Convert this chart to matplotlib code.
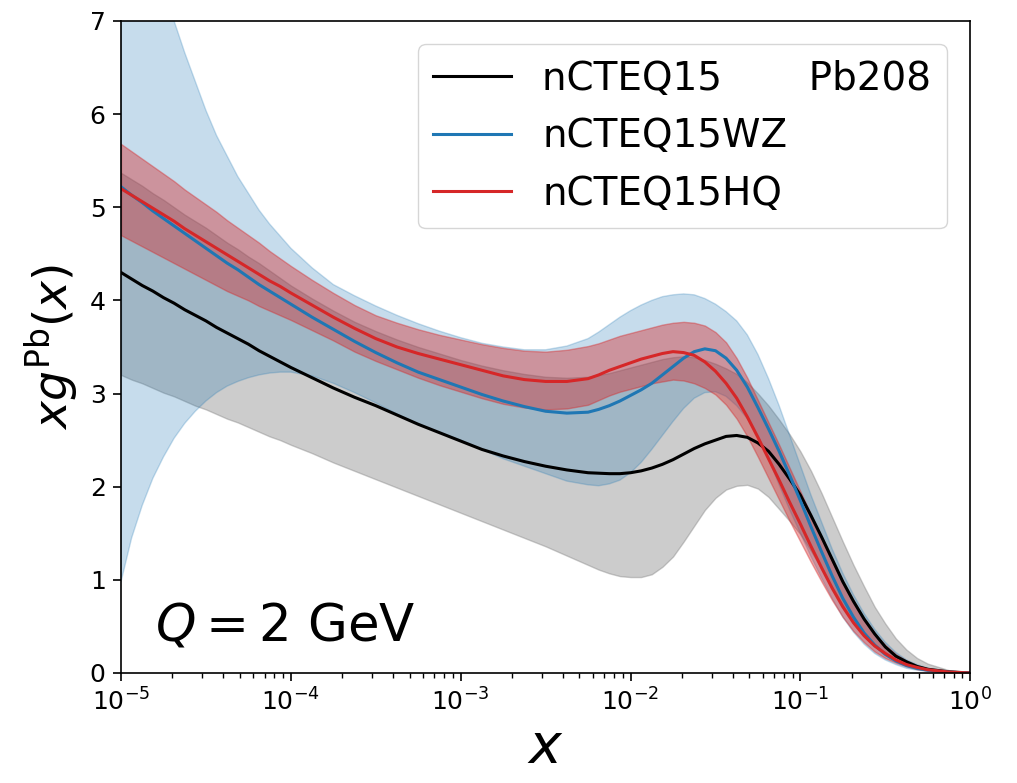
import numpy as np
import matplotlib.pyplot as plt

# log10(x) sample points (denser where curves bend)
log_x = [-5.0, -4.9375, -4.875, -4.8125, -4.75, -4.6875, -4.625, -4.5625, -4.5,
         -4.4375, -4.375, -4.3125, -4.25, -4.1875, -4.125, -4.0625, -4.0,
         -3.875, -3.75, -3.625, -3.5, -3.375, -3.25, -3.125, -3.0, -2.875,
         -2.75, -2.625, -2.5, -2.375,
         -2.25, -2.1875, -2.125, -2.0625, -2.0, -1.9375, -1.875, -1.8125, -1.75,
         -1.6875, -1.625, -1.5625, -1.5, -1.4375, -1.375, -1.3125, -1.25,
         -1.1875, -1.125, -1.0625, -1.0, -0.9375, -0.875, -0.8125, -0.75,
         -0.6875, -0.625, -0.5625, -0.5, -0.4375, -0.375, -0.3125, -0.25,
         -0.125, 0.0]

# nCTEQ15 central + band
cteq15 = [4.30, 4.23, 4.16, 4.10, 4.03, 3.97, 3.90, 3.84, 3.78,
          3.71, 3.65, 3.59, 3.53, 3.46, 3.40, 3.34, 3.28,
          3.17, 3.06, 2.96, 2.87, 2.77, 2.67, 2.58, 2.49, 2.40,
          2.33, 2.27, 2.22, 2.18,
          2.15, 2.145, 2.14, 2.14, 2.15, 2.17, 2.20, 2.24, 2.29,
          2.35, 2.41, 2.46, 2.50, 2.54, 2.55, 2.53, 2.47,
          2.38, 2.24, 2.08, 1.91, 1.69, 1.46, 1.22, 0.98,
          0.77, 0.58, 0.42, 0.28, 0.18, 0.12, 0.07, 0.04,
          0.012, 0.0]
cteq15_up = [5.37, 5.30, 5.23, 5.15, 5.08, 5.00, 4.92, 4.85, 4.78,
             4.70, 4.62, 4.55, 4.47, 4.40, 4.32, 4.24, 4.16,
             4.02, 3.89, 3.77, 3.67, 3.58, 3.50, 3.43, 3.36, 3.30,
             3.25, 3.21, 3.18, 3.17,
             3.18, 3.20, 3.22, 3.25, 3.28, 3.31, 3.34, 3.37, 3.39,
             3.40, 3.39, 3.36, 3.32, 3.27, 3.21, 3.12, 3.00,
             2.87, 2.72, 2.56, 2.38, 2.17, 1.93, 1.67, 1.41,
             1.16, 0.93, 0.71, 0.53, 0.37, 0.25, 0.16, 0.10,
             0.03, 0.0]
cteq15_lo = [3.20, 3.15, 3.11, 3.06, 3.01, 2.97, 2.92, 2.87, 2.83,
             2.78, 2.73, 2.69, 2.64, 2.59, 2.54, 2.50, 2.45,
             2.36, 2.26, 2.17, 2.08, 1.99, 1.90, 1.81, 1.72, 1.63,
             1.54, 1.45, 1.36, 1.26,
             1.16, 1.11, 1.07, 1.04, 1.03, 1.03, 1.06, 1.14, 1.25,
             1.41, 1.58, 1.75, 1.88, 1.97, 2.01, 2.02, 1.98,
             1.89, 1.76, 1.63, 1.49, 1.31, 1.12, 0.92, 0.73,
             0.56, 0.41, 0.29, 0.20, 0.13, 0.09, 0.05, 0.03,
             0.01, 0.0]

# nCTEQ15WZ
wz = [5.22, 5.13, 5.05, 4.96, 4.88, 4.80, 4.72, 4.64, 4.56,
      4.48, 4.40, 4.33, 4.25, 4.17, 4.10, 4.03, 3.96,
      3.82, 3.69, 3.56, 3.44, 3.33, 3.23, 3.15, 3.07, 2.99,
      2.92, 2.86, 2.81, 2.79,
      2.80, 2.83, 2.87, 2.92, 2.98, 3.04, 3.11, 3.20, 3.29,
      3.38, 3.45, 3.48, 3.46, 3.38, 3.25, 3.07, 2.85,
      2.62, 2.38, 2.12, 1.85, 1.57, 1.30, 1.04, 0.80,
      0.60, 0.43, 0.30, 0.20, 0.13, 0.08, 0.05, 0.03,
      0.008, 0.0]
wz_up = [9.9, 9.17, 8.57, 7.96, 7.48, 7.0, 6.66, 6.35, 6.04,
         5.77, 5.55, 5.33, 5.15, 4.97, 4.82, 4.69, 4.56,
         4.35, 4.17, 4.05, 3.94, 3.84, 3.75, 3.67, 3.60, 3.54,
         3.50, 3.47, 3.47, 3.51,
         3.59, 3.66, 3.74, 3.82, 3.89, 3.95, 4.00, 4.04, 4.06,
         4.07, 4.06, 4.02, 3.96, 3.88, 3.78, 3.63, 3.42,
         3.16, 2.87, 2.55, 2.23, 1.91, 1.62, 1.33, 1.07,
         0.84, 0.64, 0.47, 0.33, 0.22, 0.14, 0.09, 0.05,
         0.015, 0.0]
wz_lo = [0.98, 1.45, 1.80, 2.09, 2.32, 2.52, 2.68, 2.81, 2.92,
         3.01, 3.08, 3.13, 3.17, 3.20, 3.22, 3.23, 3.23,
         3.19, 3.11, 3.01, 2.90, 2.78, 2.67, 2.58, 2.50, 2.40,
         2.30, 2.22, 2.14, 2.06,
         2.02, 2.01, 2.03, 2.07, 2.15, 2.26, 2.40, 2.55, 2.70,
         2.84, 2.95, 3.01, 3.02, 2.97, 2.87, 2.73, 2.55,
         2.30, 2.02, 1.75, 1.50, 1.25, 1.02, 0.80, 0.60,
         0.44, 0.31, 0.21, 0.14, 0.09, 0.05, 0.03, 0.015,
         0.003, 0.0]

# nCTEQ15HQ
hq = [5.20, 5.13, 5.06, 4.99, 4.92, 4.85, 4.77, 4.70, 4.63,
      4.56, 4.49, 4.42, 4.35, 4.28, 4.21, 4.15, 4.08,
      3.95, 3.82, 3.70, 3.59, 3.50, 3.43, 3.37, 3.31, 3.25,
      3.19, 3.15, 3.13, 3.13,
      3.16, 3.20, 3.25, 3.29, 3.33, 3.37, 3.40, 3.43, 3.45,
      3.44, 3.41, 3.34, 3.24, 3.11, 2.95, 2.75, 2.53,
      2.30, 2.07, 1.83, 1.60, 1.36, 1.13, 0.91, 0.71,
      0.54, 0.40, 0.29, 0.21, 0.14, 0.09, 0.06, 0.035,
      0.01, 0.0]
hq_up = [5.68, 5.60, 5.52, 5.44, 5.36, 5.28, 5.19, 5.11, 5.03,
         4.95, 4.86, 4.78, 4.70, 4.62, 4.53, 4.45, 4.37,
         4.22, 4.08, 3.95, 3.84, 3.76, 3.69, 3.63, 3.58, 3.53,
         3.49, 3.46, 3.45, 3.47,
         3.51, 3.54, 3.58, 3.62, 3.65, 3.68, 3.71, 3.74, 3.76,
         3.77, 3.76, 3.73, 3.66, 3.55, 3.38, 3.17, 2.93,
         2.69, 2.45, 2.20, 1.95, 1.70, 1.45, 1.20, 0.97,
         0.76, 0.58, 0.42, 0.30, 0.20, 0.13, 0.08, 0.05,
         0.015, 0.0]
hq_lo = [4.70, 4.64, 4.58, 4.52, 4.46, 4.40, 4.34, 4.28, 4.22,
         4.16, 4.10, 4.05, 4.00, 3.94, 3.89, 3.84, 3.79,
         3.68, 3.57, 3.45, 3.35, 3.26, 3.17, 3.09, 3.02, 2.95,
         2.89, 2.85, 2.83, 2.84,
         2.88, 2.93, 2.98, 3.02, 3.05, 3.08, 3.11, 3.13, 3.15,
         3.14, 3.11, 3.06, 2.99, 2.88, 2.73, 2.54, 2.32,
         2.09, 1.86, 1.63, 1.41, 1.19, 0.98, 0.78, 0.60,
         0.45, 0.33, 0.23, 0.16, 0.11, 0.07, 0.04, 0.025,
         0.007, 0.0]

x = 10.0 ** np.array(log_x)

fig = plt.figure(figsize=(10.17, 7.83), dpi=100)
ax = fig.add_axes([0.119, 0.1405, 0.835, 0.8327])

# bands first (gray, then blue, then red on top)
ax.fill_between(x, cteq15_lo, cteq15_up, color='gray', alpha=0.4)
ax.fill_between(x, wz_lo, wz_up, color='tab:blue', alpha=0.25)
ax.fill_between(x, hq_lo, hq_up, color='tab:red', alpha=0.4)

ax.plot(x, cteq15, color='k', lw=2.2, label='nCTEQ15       Pb208')
ax.plot(x, wz, color='tab:blue', lw=2.2, label='nCTEQ15WZ')
ax.plot(x, hq, color='tab:red', lw=2.2, label='nCTEQ15HQ')

ax.set_xscale('log')
ax.set_xlim(1e-5, 1)
ax.set_ylim(0, 7)
ax.set_yticks(range(8))

ax.tick_params(which='major', labelsize=18, length=6, width=1.2, pad=5)
ax.tick_params(which='minor', length=3.5, width=1)
for s in ax.spines.values():
    s.set_linewidth(1.2)

ax.set_xlabel(r'$x$', fontsize=40, labelpad=4)
ax.set_ylabel(r'$xg^{\mathrm{Pb}}(x)$', fontsize=34, labelpad=6)

ax.text(0.04, 0.05, r'$Q = 2$ GeV', fontsize=37, transform=ax.transAxes,
        va='baseline')

ax.legend(loc='upper right', fontsize=28, borderaxespad=0.6)

fig.savefig('out.png', dpi=100)
